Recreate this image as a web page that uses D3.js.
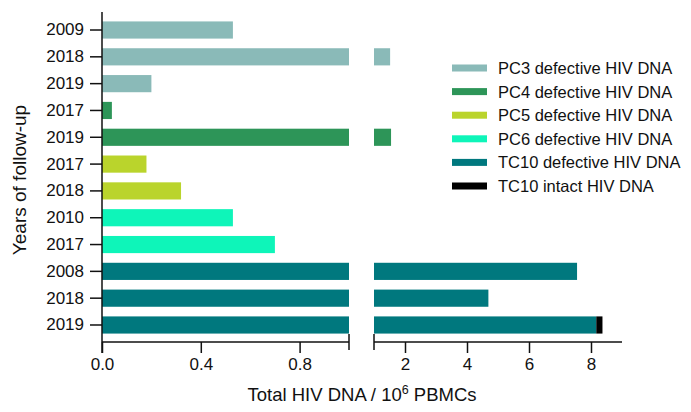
<!DOCTYPE html>
<html><head><meta charset="utf-8">
<script src="https://cdn.jsdelivr.net/npm/d3@7"></script>
<style>body{margin:0;background:#fff}svg{display:block}text{font-family:"Liberation Sans",Arial,sans-serif;fill:#111}</style>
</head><body><svg id="c" width="691" height="412"></svg>
<script>
const years = ["2009","2018","2019","2017","2019","2017","2018","2010","2017","2008","2018","2019"];
const groups = ["PC3","PC3","PC3","PC4","PC4","PC5","PC5","PC6","PC6","TC10","TC10","TC10"];
const defective = [0.53,1.52,0.20,0.04,1.55,0.18,0.32,0.53,0.70,7.55,4.69,8.17];
const intact = [0,0,0,0,0,0,0,0,0,0,0,0.20];
const legendLabels = ["PC3 defective HIV DNA","PC4 defective HIV DNA","PC5 defective HIV DNA","PC6 defective HIV DNA","TC10 defective HIV DNA","TC10 intact HIV DNA"];
const legendKeys = ["PC3","PC4","PC5","PC6","TC10","intact"];
const colorList = ["#8ABAB8","#2D9558","#BAD42C","#0EF5B9","#00787E","#000000"];
const leftTicks = [0.0,0.4,0.8];
const rightTicks = [2,4,6,8];

const color = d3.scaleOrdinal().domain(legendKeys).range(colorList);
const svg = d3.select("#c");
const xL = d3.scaleLinear().domain([0,1]).range([102,349]);
const xR = d3.scaleLinear().domain([1,9]).range([374,622]);
const idx = d3.range(years.length);
const y = d3.scaleBand().domain(idx).range([16.6,338.4]).paddingInner(0.36).paddingOuter(0.18);
const axisY = 342;
const FONT = "Liberation Sans, Arial, sans-serif";

// bars
const rows = idx.map(i => ({i, g: groups[i], d: defective[i], n: intact[i]}));
const gBars = svg.append("g");
rows.forEach(r => {
  const segs = [{k:r.g, a:0, b:r.d}];
  if (r.n > 0) segs.push({k:"intact", a:r.d, b:r.d + r.n});
  segs.forEach(s => {
    if (s.a < 1) {
      const b = Math.min(s.b, 1);
      gBars.append("rect").attr("x", xL(s.a)).attr("y", y(r.i))
        .attr("width", xL(b) - xL(s.a)).attr("height", y.bandwidth()).attr("fill", color(s.k));
    }
    if (s.b > 1) {
      const a = Math.max(s.a, 1);
      gBars.append("rect").attr("x", xR(a)).attr("y", y(r.i))
        .attr("width", xR(s.b) - xR(a)).attr("height", y.bandwidth()).attr("fill", color(s.k));
    }
  });
});

// y axis
const yAxis = d3.axisLeft(y).tickFormat(i => years[i]).tickSize(12).tickPadding(6);
const gy = svg.append("g").attr("transform", "translate(102,0)").call(yAxis);
gy.select(".domain").remove();
gy.append("line").attr("x1",0).attr("x2",0).attr("y1",12).attr("y2",axisY+11).attr("stroke","#111").attr("stroke-width",1.5);
gy.selectAll(".tick line").attr("stroke","#111").attr("stroke-width",1.5);
gy.selectAll(".tick text").attr("font-size",17).attr("fill","#111").attr("font-family",FONT);

// x axes
function xAxisPart(scale, ticks, fmt) {
  const g = svg.append("g").attr("transform", `translate(0,${axisY})`)
    .call(d3.axisBottom(scale).tickValues(ticks).tickFormat(fmt).tickSize(11).tickPadding(5));
  g.select(".domain").remove();
  g.selectAll(".tick line").attr("stroke","#111").attr("stroke-width",1.5);
  g.selectAll(".tick text").attr("font-size",17).attr("fill","#111").attr("font-family",FONT);
  return g;
}
xAxisPart(xL, leftTicks, d3.format(".1f"));
xAxisPart(xR, rightTicks, d3.format("d"));
svg.append("line").attr("x1",xL(0)).attr("x2",xL(1)).attr("y1",axisY).attr("y2",axisY).attr("stroke","#111").attr("stroke-width",1.5);
svg.append("line").attr("x1",xR(1)).attr("x2",xR(9)).attr("y1",axisY).attr("y2",axisY).attr("stroke","#111").attr("stroke-width",1.5);
[xL(1), xR(1)].forEach(px => svg.append("line").attr("x1",px).attr("x2",px).attr("y1",axisY-8).attr("y2",axisY+8).attr("stroke","#111").attr("stroke-width",1.5));

// axis titles
const xt = svg.append("text").attr("x",362).attr("y",401).attr("text-anchor","middle").attr("font-size",18.5);
xt.append("tspan").text("Total HIV DNA / 10");
xt.append("tspan").attr("dy",-7).attr("font-size",12.5).text("6");
xt.append("tspan").attr("dy",7).text(" PBMCs");
svg.append("text").attr("transform","translate(26,180) rotate(-90)").attr("text-anchor","middle").attr("font-size",19).text("Years of follow-up");

// legend
const ly = d3.scalePoint().domain(legendKeys).range([68,186]);
const lg = svg.append("g");
legendKeys.forEach((k,i) => {
  lg.append("rect").attr("x",452).attr("y",ly(k)-3.5).attr("width",35).attr("height",7).attr("fill",color(k));
  lg.append("text").attr("x",498).attr("y",ly(k)+6).attr("font-size",16.5).text(legendLabels[i]);
});
</script></body></html>
